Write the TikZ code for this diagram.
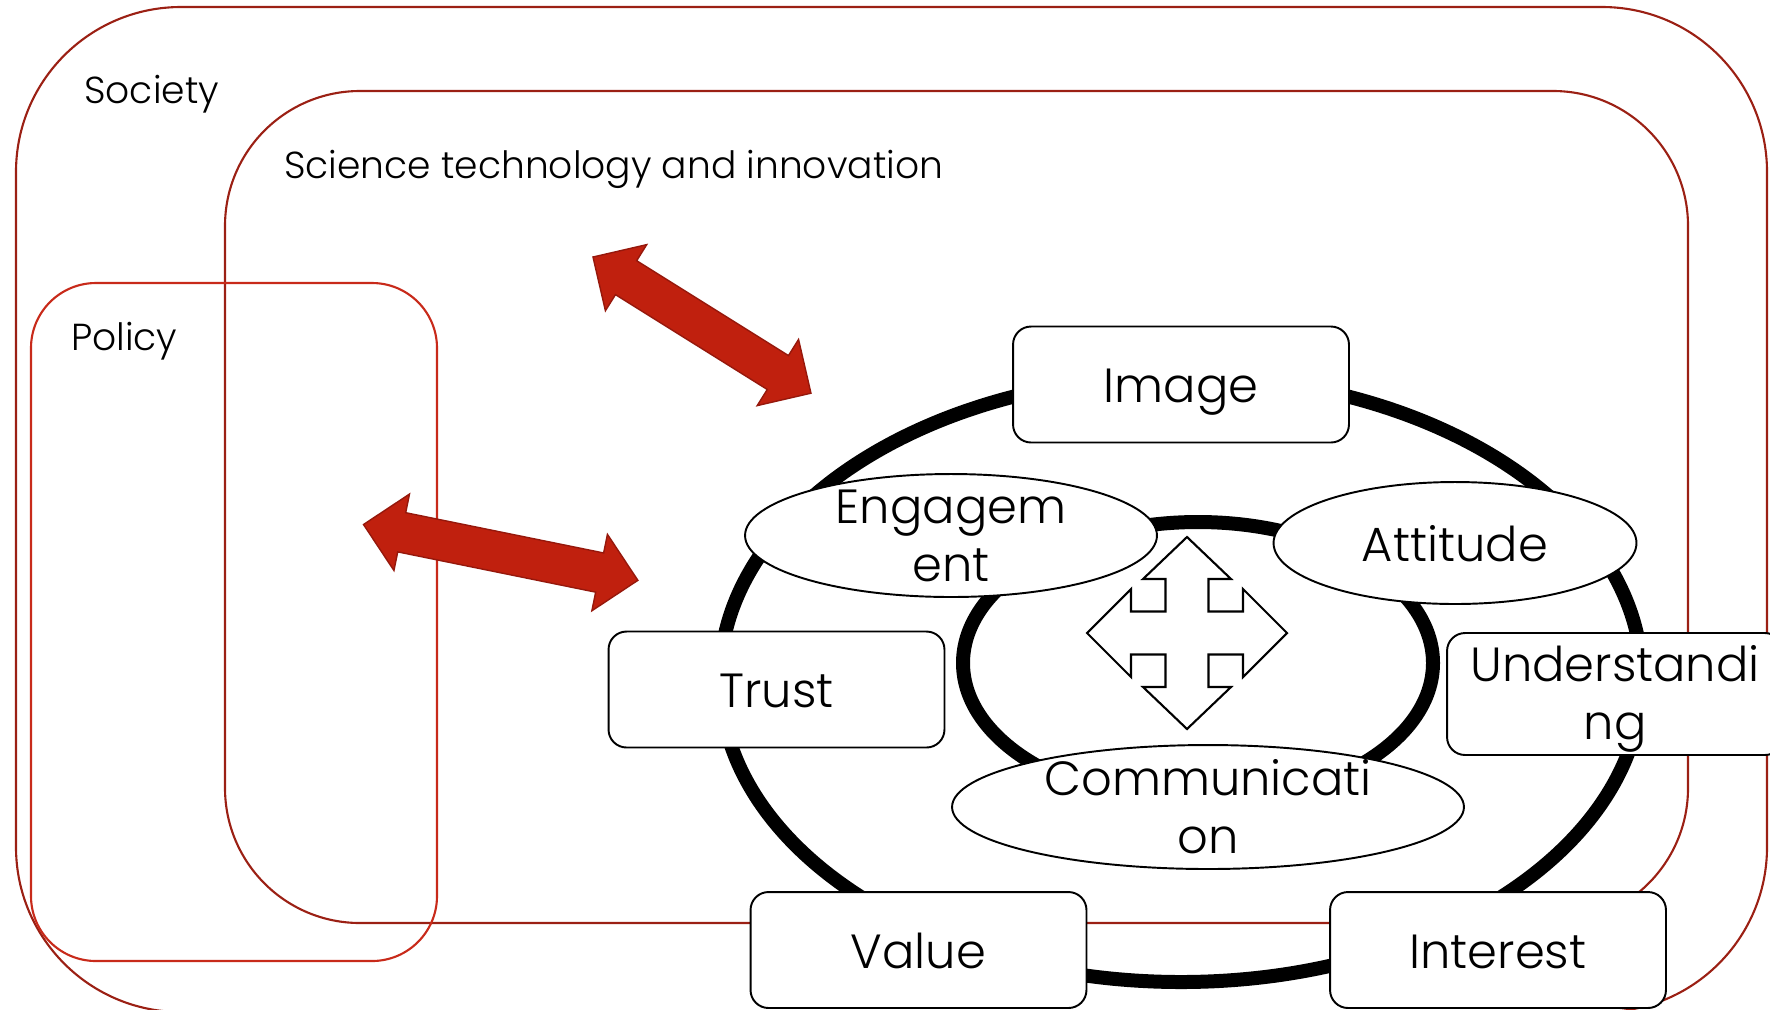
\documentclass[tikz,border=0pt]{standalone}
\usepackage{fontspec}
\setmainfont{Poppins Light}
\usetikzlibrary{shapes.geometric}
\definecolor{framered}{RGB}{155,32,20}
\definecolor{policyred}{RGB}{200,42,26}
\definecolor{arrowred}{RGB}{192,32,14}
\definecolor{arrowedge}{RGB}{150,24,12}
\begin{document}
\begin{tikzpicture}[x=0.02cm, y=-0.02cm,
		frame/.style={line width=1.2pt},
		title/.style={anchor=base west, inner sep=0pt, font=\fontsize{21.4}{26}\selectfont},
		ring/.style={draw=black, line width=0.28cm},
		box/.style={draw, fill=white, line width=1.1pt, rounded corners=0.36cm, minimum width=6.72cm, minimum height=2.32cm, inner sep=0pt, align=center, font=\fontsize{27.3}{33}\selectfont},
		oneline/.style={text height=0.72cm, text depth=0pt},
		oval/.style={draw, fill=white, ellipse, line width=1.1pt, inner sep=0pt},
		ovaltext/.style={inner sep=0pt, align=center, font=\fontsize{27.3}{33}\selectfont},
		bigarrow/.style={fill=arrowred, draw=arrowedge, line width=0.8pt},
		quad/.style={draw, fill=white, line width=1.2pt}]
	\useasboundingbox (0,0) rectangle (1770,1009);
	% frames
	\draw[frame, draw=framered, rounded corners=3.3cm] (16,7) rectangle (1767,1012);
	\draw[frame, draw=framered, rounded corners=2.7cm] (225,91) rectangle (1688,923);
	\draw[frame, draw=policyred, rounded corners=1.3cm] (31,283) rectangle (437,961);
	\node[title] (society) at (84,103) {Society};
	\node[title] (sti) at (284,178) {Science technology and innovation};
	\node[title] (policy) at (71,350) {Policy};
	% rings
	\draw[ring] (1181,679) ellipse [x radius=461, y radius=303];
	\draw[ring] (1198,663) ellipse [x radius=235, y radius=141];
	% red arrows
	\begin{scope}[shift={(593,257)}, rotate=-32]
		\draw[bigarrow] (0,0) -- (39,39) -- (39,20) -- (218,20) -- (218,39) -- (257,0) -- (218,-39) -- (218,-20) -- (39,-20) -- (39,-39) -- cycle;
	\end{scope}
	\begin{scope}[shift={(363.5,524.5)}, rotate=-11.5]
		\draw[bigarrow] (0,0) -- (39,39) -- (39,20) -- (241,20) -- (241,39) -- (280,0) -- (241,-39) -- (241,-20) -- (39,-20) -- (39,-39) -- cycle;
	\end{scope}
	% centre arrows
	\begin{scope}[shift={(1187,633)}]
		\draw[quad] (0,-96) -- (44,-54) -- (21.5,-54) -- (21.5,-21.5) -- (56,-21.5) -- (56,-44) -- (100,0) -- (56,44) -- (56,21.5) -- (21.5,21.5) -- (21.5,54) -- (44,54) -- (0,96) -- (-44,54) -- (-21.5,54) -- (-21.5,21.5) -- (-56,21.5) -- (-56,44) -- (-100,0) -- (-56,-44) -- (-56,-21.5) -- (-21.5,-21.5) -- (-21.5,-54) -- (-44,-54) -- cycle;
	\end{scope}
	% boxes
	\node[box, oneline] (image) at (1181,384.5) {Image};
	\node[box, oneline] (trust) at (776.5,689.5) {Trust};
	\node[box, minimum height=2.44cm] (underst) at (1615,694) {};
	\node[ovaltext, yshift=-0.1cm] (understtext) at (underst) {Understandi\\ng};
	\node[box, oneline] (value) at (918.5,950) {Value};
	\node[box, oneline] (interest) at (1498,950) {Interest};
	% ovals
	\node[oval, minimum width=8.24cm, minimum height=2.46cm] (engage) at (951,535.5) {};
	\node[ovaltext] (engagetext) at (engage) {Engagem\\ent};
	\node[oval, minimum width=7.26cm, minimum height=2.44cm] (attitude) at (1455,543) {};
	\node[ovaltext, oneline] (attitudetext) at (attitude) {Attitude};
	\node[oval, minimum width=10.24cm, minimum height=2.48cm] (commun) at (1208,807) {};
	\node[ovaltext] (communtext) at (commun) {Communicati\\on};
\end{tikzpicture}
\end{document}
